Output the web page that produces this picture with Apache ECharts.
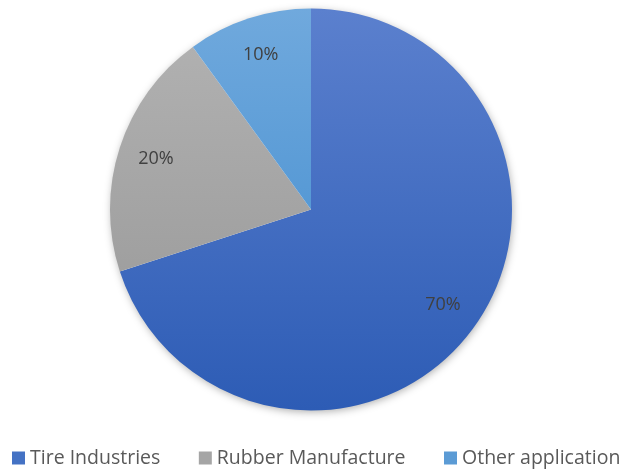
<!DOCTYPE html>
<html>
<head>
<meta charset="utf-8">
<style>
  html, body { margin: 0; padding: 0; background: #ffffff; }
  #chart { width: 625px; height: 473px; }
</style>
<script src="https://cdn.jsdelivr.net/npm/echarts@6/dist/echarts.min.js"></script>
</head>
<body>
<div id="chart"></div>
<script>
// Application share of the market, in percent
const categories = ['Tire Industries', 'Rubber Manufacture', 'Other application'];
const shares = [70, 20, 10];
// Top and bottom shade of each slice's vertical gradient
const topColors = ['#5b80ce', '#b3b3b3', '#70a9dd'];
const bottomColors = ['#2d5cb5', '#959595', '#3c89cd'];
const legendColors = ['#4472c4', '#a5a5a5', '#5b9bd5'];

const CX = 311, CY = 209.5, R = 201;

function shade(i) {
  return {
    type: 'linear', global: true,
    x: 0, y: CY - R, x2: 0, y2: CY + R,
    colorStops: [
      { offset: 0, color: topColors[i] },
      { offset: 1, color: bottomColors[i] }
    ]
  };
}

const sliceData = categories.map((name, i) => ({
  name, value: shares[i], itemStyle: { color: shade(i) }
}));

const labelData = categories.map((name, i) => ({ name, value: shares[i] }));

const chart = echarts.init(document.getElementById('chart'), null, { renderer: 'canvas' });
chart.setOption({
  animation: false,
  backgroundColor: '#ffffff',
  legend: {
    data: categories.map((name, i) => ({ name, itemStyle: { color: legendColors[i] } })),
    orient: 'horizontal',
    bottom: 5,
    left: 12,
    width: 613,
    padding: 0,
    itemWidth: 13,
    itemHeight: 13,
    itemGap: 38.5,
    icon: 'rect',
    textStyle: { fontFamily: 'Open Sans', fontSize: 19.5, color: '#595959' }
  },
  graphic: [{
    type: 'circle',
    z: 0,
    silent: true,
    shape: { cx: CX, cy: CY, r: R - 1 },
    style: {
      fill: '#ffffff',
      shadowBlur: 8,
      shadowOffsetX: 1,
      shadowOffsetY: 2,
      shadowColor: 'rgba(0,0,0,0.35)'
    }
  }],
  series: [
    {
      type: 'pie',
      z: 2,
      silent: true,
      center: [CX, CY],
      radius: [0, R],
      startAngle: 90,
      clockwise: true,
      label: { show: false },
      labelLine: { show: false },
      itemStyle: { borderWidth: 0 },
      data: sliceData
    },
    {
      // transparent ring that only carries the percentage labels
      type: 'pie',
      z: 3,
      silent: true,
      center: [CX, CY],
      radius: [118, 202],
      startAngle: 90,
      clockwise: true,
      itemStyle: { color: 'rgba(0,0,0,0)', borderWidth: 0 },
      label: {
        show: true,
        position: 'inside',
        formatter: '{c}%',
        fontFamily: 'Open Sans',
        fontSize: 18,
        color: '#404040'
      },
      labelLine: { show: false },
      data: labelData
    }
  ]
});
</script>
</body>
</html>
